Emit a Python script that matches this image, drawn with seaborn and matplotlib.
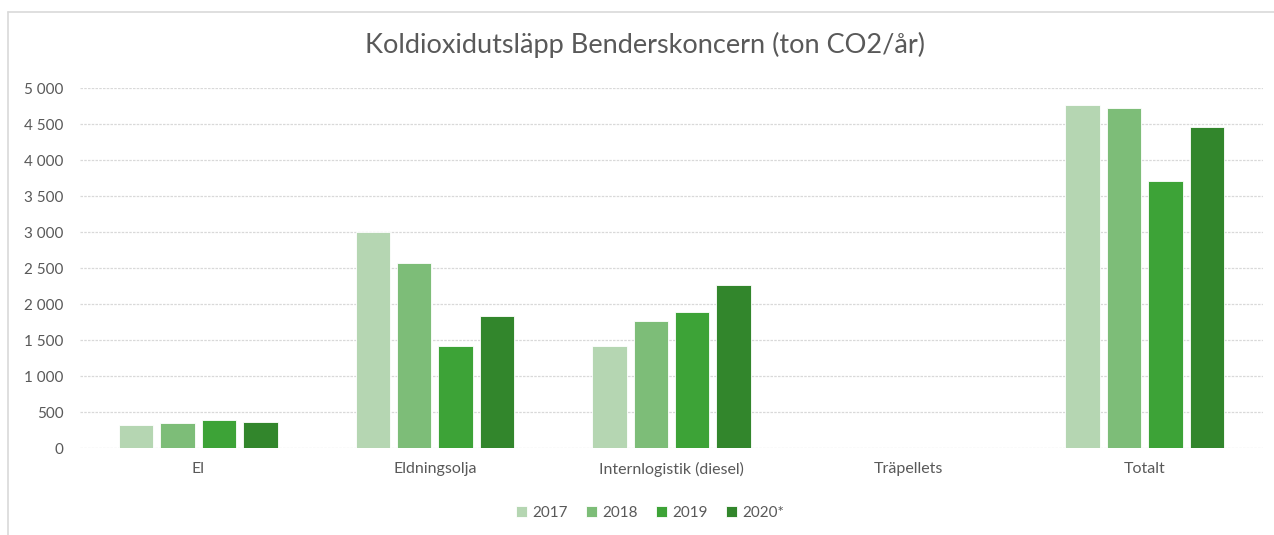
import matplotlib
matplotlib.use("Agg")
from matplotlib import pyplot as plt
from matplotlib.ticker import FuncFormatter
import pandas as pd
import seaborn as sns

# Data
categories = ["El", "Eldningsolja", "Internlogistik (diesel)", "Träpellets", "Totalt"]
years = ["2017", "2018", "2019", "2020*"]
v2017 = [320, 3000, 1411, 0, 4759]
v2018 = [344, 2572, 1764, 0, 4717]
v2019 = [385, 1411, 1894, 0, 3714]
v2020 = [366, 1829, 2260, 0, 4453]
colors = ["#b5d6b2", "#7dbd78", "#3da337", "#32862c"]

rows = []
for year, vals in zip(years, [v2017, v2018, v2019, v2020]):
    for cat, v in zip(categories, vals):
        rows.append({"Kategori": cat, "År": year, "Värde": v})
df = pd.DataFrame(rows)

sns.set_style("white")
plt.rcParams["font.family"] = ["Lato", "DejaVu Sans"]
text_color = "#595959"

fig = plt.figure(figsize=(12.74, 5.35), dpi=100)
ax = fig.add_axes([0.0628, 0.1626, 0.9286, 0.6729])

sns.barplot(data=df, x="Kategori", y="Värde", hue="År", order=categories,
            hue_order=years, palette=colors, saturation=1, width=0.70, gap=0.17,
            edgecolor="white", linewidth=0.6, ax=ax, legend=True)

ax.set_ylim(0, 5000)
ax.set_xlim(-0.5, 4.5)
ax.set_yticks(range(0, 5001, 500))
ax.yaxis.set_major_formatter(FuncFormatter(lambda v, p: f"{int(v):,}".replace(",", " ")))
ax.grid(axis="y", color="#d9d9d9", linewidth=0.9, linestyle=(0, (2, 1)))
ax.set_axisbelow(True)
for s in ax.spines.values():
    s.set_visible(False)
ax.tick_params(axis="y", length=0, pad=12, labelsize=11, labelcolor=text_color)
ax.tick_params(axis="x", length=0, pad=10, labelsize=11.5, labelcolor=text_color)
ax.set_xlabel("")
ax.set_ylabel("")

# Legend
handles, labels = ax.get_legend_handles_labels()
ax.legend(handles, labels, loc="center", bbox_to_anchor=(650 / 1274, 1 - 513 / 535),
          bbox_transform=fig.transFigure, ncol=4, frameon=False,
          handlelength=0.7, handleheight=0.7, handletextpad=0.35,
          columnspacing=1.2, fontsize=11, labelcolor=text_color)

fig.text(645 / 1274, 1 - 45 / 535, "Koldioxidutsläpp Benderskoncern (ton CO2/år)",
         ha="center", va="center", fontsize=19.5, color=text_color)

# Chart border (left and top, as in the cropped Excel chart)
fig.add_artist(plt.Line2D([8 / 1274, 8 / 1274], [0, 1 - 12 / 535],
                          transform=fig.transFigure, color="#d9d9d9", linewidth=1.2))
fig.add_artist(plt.Line2D([8 / 1274, 1], [1 - 12 / 535, 1 - 12 / 535],
                          transform=fig.transFigure, color="#d9d9d9", linewidth=1.2))

fig.savefig("out.png", dpi=100)
